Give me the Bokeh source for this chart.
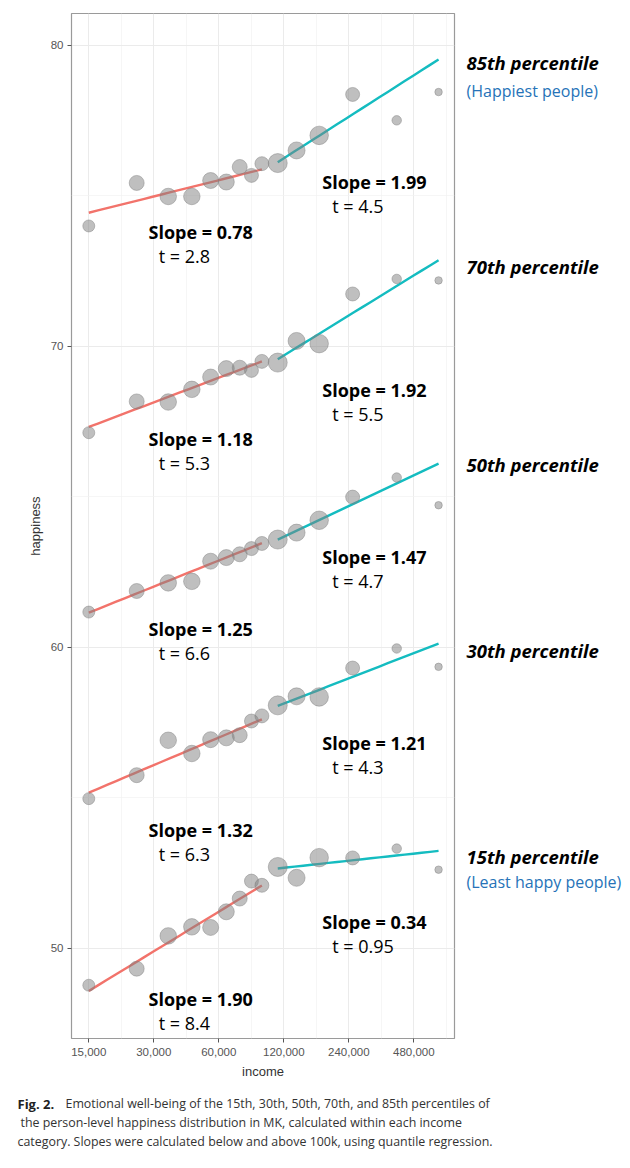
import numpy as np
from bokeh.plotting import figure
from bokeh.layouts import row, column
from bokeh.models import Label, FixedTicker, NumeralTickFormatter, Range1d, ColumnDataSource
from bokeh.embed import file_html
from bokeh.resources import INLINE

# ---------------- data ----------------
income = [15000, 25000, 35000, 45000, 55000, 65000, 75000, 85000, 95000,
          112500, 137500, 175000, 250000, 400000, 625000]
# relative sample size per income category (drives marker size)
n_rel = [12, 15, 16.5, 16.5, 16, 16, 15, 14, 14, 19, 17, 18.5, 14, 9.5, 7.5]

percentiles = ["85th", "70th", "50th", "30th", "15th"]
happy = {
    "85th": [74.0, 75.43, 74.98, 74.98, 75.51, 75.46, 75.96, 75.68, 76.07,
             76.09, 76.51, 77.01, 78.37, 77.51, 78.45],
    "70th": [67.13, 68.17, 68.15, 68.57, 68.98, 69.26, 69.29, 69.20, 69.50,
             69.46, 70.18, 70.09, 71.74, 72.24, 72.19],
    "50th": [61.17, 61.87, 62.14, 62.19, 62.86, 62.98, 63.09, 63.28, 63.45,
             63.58, 63.81, 64.22, 64.99, 65.64, 64.72],
    "30th": [54.97, 55.75, 56.91, 56.47, 56.93, 56.99, 57.08, 57.55, 57.72,
             58.07, 58.37, 58.35, 59.31, 59.96, 59.35],
    "15th": [48.77, 49.32, 50.41, 50.71, 50.69, 51.21, 51.65, 52.23, 52.09,
             52.70, 52.34, 53.01, 53.00, 53.31, 52.61],
}
# quantile-regression fits (per ln(income)), below and above 100k
low_start = {"85th": 74.44, "70th": 67.32, "50th": 61.15, "30th": 55.17, "15th": 48.58}
low_slope = {"85th": 0.78, "70th": 1.18, "50th": 1.25, "30th": 1.32, "15th": 1.90}
low_t = {"85th": "2.8", "70th": "5.3", "50th": "6.6", "30th": "6.3", "15th": "8.4"}
high_start = {"85th": 76.12, "70th": 69.57, "50th": 63.58, "30th": 58.05, "15th": 52.65}
high_slope = {"85th": 1.99, "70th": 1.92, "50th": 1.47, "30th": 1.21, "15th": 0.34}
high_t = {"85th": "4.5", "70th": "5.5", "50th": "4.7", "30th": "4.3", "15th": "0.95"}
low_x = [15000, 95000]
high_x = [112500, 625000]

# annotation y positions (happiness units)
low_lab_y = {"85th": 73.79, "70th": 66.91, "50th": 60.60, "30th": 53.92, "15th": 48.31}
high_lab_y = {"85th": 75.45, "70th": 68.54, "50th": 62.99, "30th": 56.81, "15th": 50.86}
pct_lab_y = {"85th": 79.44, "70th": 72.66, "50th": 66.08, "30th": 59.90, "15th": 53.06}
sub_labels = {"85th": ("(Happiest people)", 78.50), "15th": ("(Least happy people)", 52.19)}

x_ticks = [15000, 30000, 60000, 120000, 240000, 480000]
y_ticks = [50, 60, 70, 80]

caption_bold = "Fig. 2."
caption_lines = [
    "Emotional well-being of the 15th, 30th, 50th, 70th, and 85th percentiles of",
    "the person-level happiness distribution in MK, calculated within each income",
    "category. Slopes were calculated below and above 100k, using quantile regression.",
]

# ---------------- main figure ----------------
X_LO, X_HI = 12474, 740800
Y_LO, Y_HI = 47.0, 81.06
MAIN_W, MAIN_H = 458, 1083
TOP_B, BOT_B = 13, 45

p = figure(width=MAIN_W, height=MAIN_H, x_axis_type="log",
           x_range=Range1d(X_LO, X_HI), y_range=Range1d(Y_LO, Y_HI),
           output_backend="svg", toolbar_location=None,
           min_border_left=71, min_border_right=4,
           min_border_top=TOP_B, min_border_bottom=BOT_B)
p.background_fill_color = "white"
p.border_fill_color = "white"
p.outline_line_color = "#9a9a9a"
p.outline_line_width = 1.2

minor_x = [t * np.sqrt(2) for t in x_ticks]
p.xaxis.ticker = FixedTicker(ticks=x_ticks, minor_ticks=minor_x)
p.yaxis.ticker = FixedTicker(ticks=y_ticks, minor_ticks=[45, 55, 65, 75])
p.xaxis.formatter = NumeralTickFormatter(format="0,0")

for ax in (p.xaxis, p.yaxis):
    ax.axis_line_color = None
    ax.major_tick_line_color = "#555555"
    ax.major_tick_out = 4
    ax.major_tick_in = 0
    ax.minor_tick_line_color = None
    ax.major_label_text_font = "Liberation Sans"
    ax.major_label_text_font_size = "11.5px"
    ax.major_label_text_color = "#555555"
    ax.axis_label_text_font = "Liberation Sans"
    ax.axis_label_text_font_size = "13px"
    ax.axis_label_text_font_style = "normal"
    ax.axis_label_text_color = "#333333"
p.yaxis.major_label_standoff = 4
p.xaxis.axis_label = "income"
p.yaxis.axis_label = "happiness"

for g in (p.xgrid, p.ygrid):
    g.grid_line_color = "#ebebeb"
    g.grid_line_width = 1
    g.minor_grid_line_color = "#f2f2f2"
    g.minor_grid_line_width = 0.7

RED = "#F2736B"
CYAN = "#14BCC0"

for pc in percentiles:
    xs_lo = np.geomspace(low_x[0], low_x[1], 20)
    ys_lo = low_start[pc] + low_slope[pc] * np.log(xs_lo / low_x[0])
    p.line(xs_lo, ys_lo, line_color=RED, line_width=2.4)
    xs_hi = np.geomspace(high_x[0], high_x[1], 20)
    ys_hi = high_start[pc] + high_slope[pc] * np.log(xs_hi / high_x[0])
    p.line(xs_hi, ys_hi, line_color=CYAN, line_width=2.4)

for pc in percentiles:
    src = ColumnDataSource(dict(x=income, y=happy[pc], s=n_rel))
    p.scatter("x", "y", size="s", source=src, fill_color="#7f7f7f", fill_alpha=0.5,
              line_color="#7f7f7f", line_alpha=0.45, line_width=1)

LAB_FONT = "Open Sans"
for pc in percentiles:
    p.add_layout(Label(x=28350, y=low_lab_y[pc], text=f"Slope = {low_slope[pc]:.2f}",
                       text_font=LAB_FONT, text_font_size="18px", text_font_style="bold",
                       text_color="black", text_baseline="middle"))
    p.add_layout(Label(x=31600, y=low_lab_y[pc] - 0.80, text=f"t = {low_t[pc]}",
                       text_font=LAB_FONT, text_font_size="18px",
                       text_color="black", text_baseline="middle"))
    p.add_layout(Label(x=180900, y=high_lab_y[pc], text=f"Slope = {high_slope[pc]:.2f}",
                       text_font=LAB_FONT, text_font_size="18px", text_font_style="bold",
                       text_color="black", text_baseline="middle"))
    p.add_layout(Label(x=201000, y=high_lab_y[pc] - 0.79, text=f"t = {high_t[pc]}",
                       text_font=LAB_FONT, text_font_size="18px",
                       text_color="black", text_baseline="middle"))

# ---------------- right-hand labels figure ----------------
RIGHT_W = 168
r = figure(width=RIGHT_W, height=MAIN_H, x_range=Range1d(0, RIGHT_W),
           y_range=Range1d(Y_LO, Y_HI), output_backend="svg", toolbar_location=None,
           x_axis_location=None, y_axis_location=None,
           min_border_left=0, min_border_right=0,
           min_border_top=TOP_B, min_border_bottom=BOT_B)
r.outline_line_color = None
r.xgrid.visible = False
r.ygrid.visible = False
for pc in percentiles:
    r.add_layout(Label(x=8, y=pct_lab_y[pc], text=f"{pc} percentile",
                       text_font=LAB_FONT, text_font_size="18.5px",
                       text_font_style="bold italic",
                       text_color="black", text_baseline="middle"))
    if pc in sub_labels:
        txt, yy = sub_labels[pc]
        r.add_layout(Label(x=8, y=yy, text=txt,
                           text_font=LAB_FONT, text_font_size="16px",
                           text_color="#2673B8", text_baseline="middle"))

# ---------------- caption figure ----------------
CAP_W, CAP_H = 626, 82
c = figure(width=CAP_W, height=CAP_H, x_range=Range1d(0, CAP_W),
           y_range=Range1d(CAP_H, 0), output_backend="svg", toolbar_location=None,
           x_axis_location=None, y_axis_location=None, min_border=0)
c.outline_line_color = None
c.xgrid.visible = False
c.ygrid.visible = False
cap_y = [20, 39, 58]
CAP_FONT_SIZE = "12.4px"
c.add_layout(Label(x=17, y=cap_y[0], text=caption_bold,
                   text_font="Open Sans", text_font_size="13px", text_font_style="bold",
                   text_color="#222222", text_baseline="middle"))
c.add_layout(Label(x=65, y=cap_y[0], text=caption_lines[0],
                   text_font="Open Sans", text_font_size=CAP_FONT_SIZE,
                   text_color="#333333", text_baseline="middle"))
c.add_layout(Label(x=20, y=cap_y[1], text=caption_lines[1],
                   text_font="Open Sans", text_font_size=CAP_FONT_SIZE,
                   text_color="#333333", text_baseline="middle"))
c.add_layout(Label(x=17, y=cap_y[2], text=caption_lines[2],
                   text_font="Open Sans", text_font_size=CAP_FONT_SIZE,
                   text_color="#333333", text_baseline="middle"))

layout = column(row(p, r, spacing=0), c, spacing=0)
open("out.html", "w").write(file_html(layout, INLINE))
